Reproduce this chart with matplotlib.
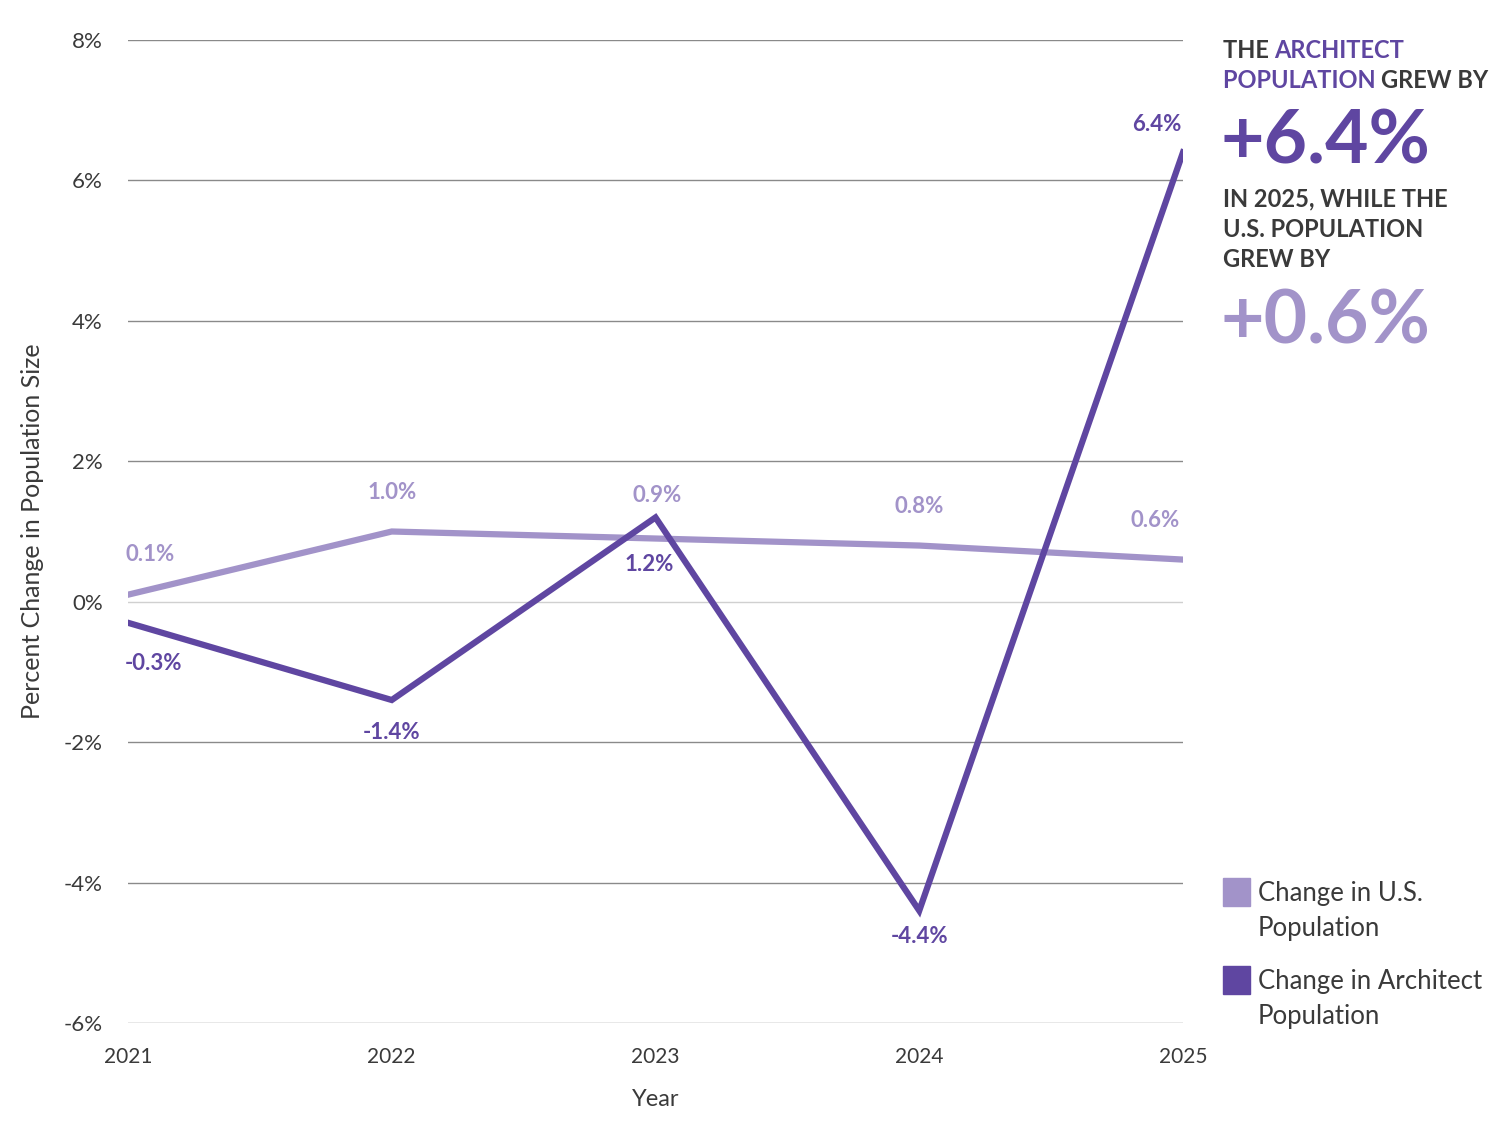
import matplotlib.pyplot as plt
from matplotlib.patches import Rectangle

years = [2021, 2022, 2023, 2024, 2025]
us_change = [0.1, 1.0, 0.9, 0.8, 0.6]
arch_change = [-0.3, -1.4, 1.2, -4.4, 6.4]
yticks = [-6, -4, -2, 0, 2, 4, 6, 8]

# label offsets in pixels (dx, dy)
us_offsets = [(22, 40), (0, 39), (2, 43), (0, 39), (-28, 39)]
arch_offsets = [(25, -41), (0, -32), (-6, -47), (0, -26), (-26, 28)]

LIGHT = '#a293c9'
DARK = '#5f46a1'
TEXT = '#3a3a3a'

plt.rcParams['font.family'] = ['Lato', 'DejaVu Sans']

fig = plt.figure(figsize=(15, 11.35), dpi=100)
ax = fig.add_axes([128 / 1500, 1 - 1023 / 1135, 1055 / 1500, 983 / 1135])

for v in yticks:
    ax.axhline(v, color='#d0d0d0' if v == 0 else '#8a8a8a', lw=1.0, zorder=1)

ax.plot(years, us_change, color=LIGHT, lw=4.5, zorder=3, solid_joinstyle='miter')
ax.plot(years, arch_change, color=DARK, lw=4.5, zorder=4, solid_joinstyle='miter')

for x, y, (dx, dy) in zip(years, us_change, us_offsets):
    ax.annotate(f'{y:.1f}%', (x, y), xytext=(dx, dy), textcoords='offset pixels',
                ha='center', va='center', color=LIGHT, fontsize=16, fontweight='bold')
for x, y, (dx, dy) in zip(years, arch_change, arch_offsets):
    ax.annotate(f'{y:.1f}%', (x, y), xytext=(dx, dy), textcoords='offset pixels',
                ha='center', va='center', color=DARK, fontsize=16, fontweight='bold')

ax.set_xlim(2021, 2025)
ax.set_ylim(-6, 8)
ax.set_xticks(years)
ax.set_xticklabels([str(y) for y in years])
ax.set_yticks(yticks)
ax.set_yticklabels([f'{v}%' for v in yticks])
ax.tick_params(length=0, labelsize=15, colors=TEXT)
ax.tick_params(axis='x', pad=17)
ax.tick_params(axis='y', pad=18, labelsize=16)
for s in ax.spines.values():
    s.set_visible(False)
ax.set_xlabel('Year', fontsize=17, color=TEXT, labelpad=16)
ax.set_ylabel('Percent Change in Population Size', fontsize=18, color=TEXT, labelpad=14)

# callout text on the right
fig.canvas.draw()
renderer = fig.canvas.get_renderer()


def runs(x, y, parts, size, weight='bold'):
    px = x
    for s, c in parts:
        t = fig.text(px / 1500, 1 - y / 1135, s, color=c, fontsize=size,
                     fontweight=weight, ha='left', va='baseline')
        bb = t.get_window_extent(renderer)
        px += bb.width


runs(1223, 58, [('THE ', TEXT), ('ARCHITECT', DARK)], 17)
runs(1223, 88, [('POPULATION ', DARK), ('GREW BY', TEXT)], 17)
runs(1220, 164, [('+6.4%', DARK)], 54)
runs(1223, 206, [('IN 2025, WHILE THE', TEXT)], 17)
runs(1223, 237, [('U.S. POPULATION', TEXT)], 17)
runs(1223, 267, [('GREW BY', TEXT)], 17)
runs(1220, 343, [('+0.6%', LIGHT)], 54)

# legend
for y0, c, lab in [(878, LIGHT, 'Change in U.S.\nPopulation'),
                   (966, DARK, 'Change in Architect\nPopulation')]:
    fig.patches.append(Rectangle((1223 / 1500, 1 - (y0 + 28) / 1135), 27 / 1500, 28 / 1135,
                                 transform=fig.transFigure, color=c))
    fig.text(1258 / 1500, 1 - (y0 + 3) / 1135, lab, color=TEXT, fontsize=18.5,
             ha='left', va='top', linespacing=1.5)

fig.savefig('out.png', dpi=100)
